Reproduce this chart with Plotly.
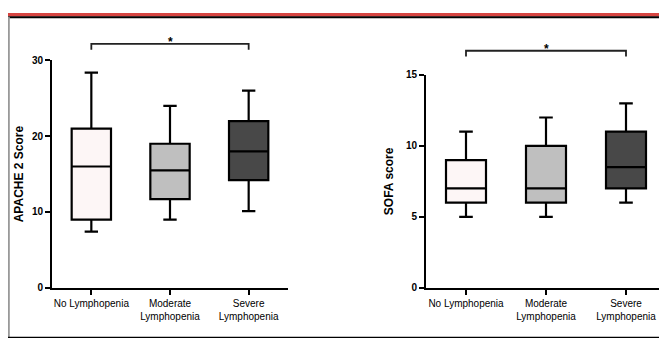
import plotly.graph_objects as go

categories = ["No Lymphopenia", "Moderate<br>Lymphopenia", "Severe<br>Lymphopenia"]

# APACHE 2 score box stats
apache_low = [7.4, 9.0, 10.1]
apache_q1 = [9.0, 11.7, 14.2]
apache_med = [16.0, 15.5, 18.0]
apache_q3 = [21.0, 19.0, 22.0]
apache_high = [28.4, 24.0, 26.0]

# SOFA score box stats
sofa_low = [5.0, 5.0, 6.0]
sofa_q1 = [6.0, 6.0, 7.0]
sofa_med = [7.0, 7.0, 8.5]
sofa_q3 = [9.0, 10.0, 11.0]
sofa_high = [11.0, 12.0, 13.0]

apache_ticks = [0, 10, 20, 30]
sofa_ticks = [0, 5, 10, 15]

bg_colors = ["#fdf6f6", "#d2d2d2", "#3c3c3c"]
fg_colors = [None, "#7a7a7a", "#707070"]

W, H = 667, 338
fig = go.Figure()

def add_panel(q1, med, q3, low, high, xa, ya):
    for i, cat in enumerate(categories):
        marker = dict(color=bg_colors[i], line=dict(width=0))
        if fg_colors[i]:
            marker["pattern"] = dict(shape=".", fgcolor=fg_colors[i], bgcolor=bg_colors[i],
                                     size=2, solidity=0.5)
        fig.add_trace(go.Bar(
            x=[cat], base=[q1[i]], y=[q3[i] - q1[i]], width=0.5, marker=marker,
            xaxis=xa, yaxis=ya, showlegend=False, hoverinfo="skip"))
    fig.add_trace(go.Box(
        x=categories, q1=q1, median=med, q3=q3, lowerfence=low, upperfence=high,
        width=0.5, whiskerwidth=0.34, fillcolor="rgba(0,0,0,0)",
        line=dict(color="black", width=2.2), xaxis=xa, yaxis=ya, showlegend=False,
        boxpoints=False))

add_panel(apache_q1, apache_med, apache_q3, apache_low, apache_high, "x", "y")
add_panel(sofa_q1, sofa_med, sofa_q3, sofa_low, sofa_high, "x2", "y2")

def px_x(p):
    return p / W

def px_y(p):
    return 1 - p / H

axis_common = dict(showline=True, linecolor="black", linewidth=2, ticks="outside",
                   ticklen=5, tickwidth=2, tickcolor="black", showgrid=False,
                   zeroline=False)
xfont = dict(family="Arial", size=10, color="black")
yfont = dict(family="Arial", size=10, color="black", weight="bold")

fig.update_layout(
    width=W, height=H, margin=dict(l=0, r=0, t=0, b=0),
    paper_bgcolor="white", plot_bgcolor="white", barmode="overlay",
    xaxis=dict(domain=[px_x(44), px_x(280)], range=[-0.5, 2.5], anchor="y",
               tickfont=xfont, **axis_common),
    yaxis=dict(domain=[px_y(284), px_y(49)], range=[0, 30], anchor="x",
               tickvals=apache_ticks, tickfont=yfont,
               title=dict(text="<b>APACHE 2 Score</b>", font=dict(family="Arial", size=12, color="black"), standoff=6),
               **axis_common),
    xaxis2=dict(domain=[px_x(418), px_x(658)], range=[-0.5, 2.5], anchor="y2",
                tickfont=xfont, **axis_common),
    yaxis2=dict(domain=[px_y(284), px_y(64)], range=[0, 15], anchor="x2",
                tickvals=sofa_ticks, tickfont=yfont,
                title=dict(text="<b>SOFA score</b>", font=dict(family="Arial", size=12, color="black"), standoff=10),
                **axis_common),
)

shapes = []
# frame
shapes.append(dict(type="rect", xref="paper", yref="paper", x0=0, x1=1, y0=px_y(3.5), y1=1,
                   fillcolor="#d64541", line=dict(width=0)))
shapes.append(dict(type="line", xref="paper", yref="paper", x0=0, x1=1, y0=px_y(4.5), y1=px_y(4.5),
                   line=dict(color="black", width=2)))
shapes.append(dict(type="line", xref="paper", yref="paper", x0=px_x(0.8), x1=px_x(0.8), y0=px_y(336), y1=px_y(4),
                   line=dict(color="#999999", width=2)))
shapes.append(dict(type="line", xref="paper", yref="paper", x0=px_x(666), x1=px_x(666), y0=px_y(336), y1=px_y(4),
                   line=dict(color="black", width=1.5)))
shapes.append(dict(type="line", xref="paper", yref="paper", x0=0, x1=1, y0=px_y(335.5), y1=px_y(335.5),
                   line=dict(color="black", width=1.5)))

# significance brackets
for xr, ytop, ytip in [("x", 32, 38), ("x2", 39, 45)]:
    shapes.append(dict(type="path", xref=xr, yref="paper",
                       path=f"M 0,{px_y(ytip)} L 0,{px_y(ytop)} L 2,{px_y(ytop)} L 2,{px_y(ytip)}",
                       line=dict(color="#222222", width=1.8)))
fig.update_layout(shapes=shapes)

fig.add_annotation(x=1, xref="x", y=px_y(21), yref="paper", text="<b>*</b>", showarrow=False,
                   font=dict(family="Arial", size=12, color="black"))
fig.add_annotation(x=1, xref="x2", y=px_y(28), yref="paper", text="<b>*</b>", showarrow=False,
                   font=dict(family="Arial", size=12, color="black"))

fig.write_html("out.html")
